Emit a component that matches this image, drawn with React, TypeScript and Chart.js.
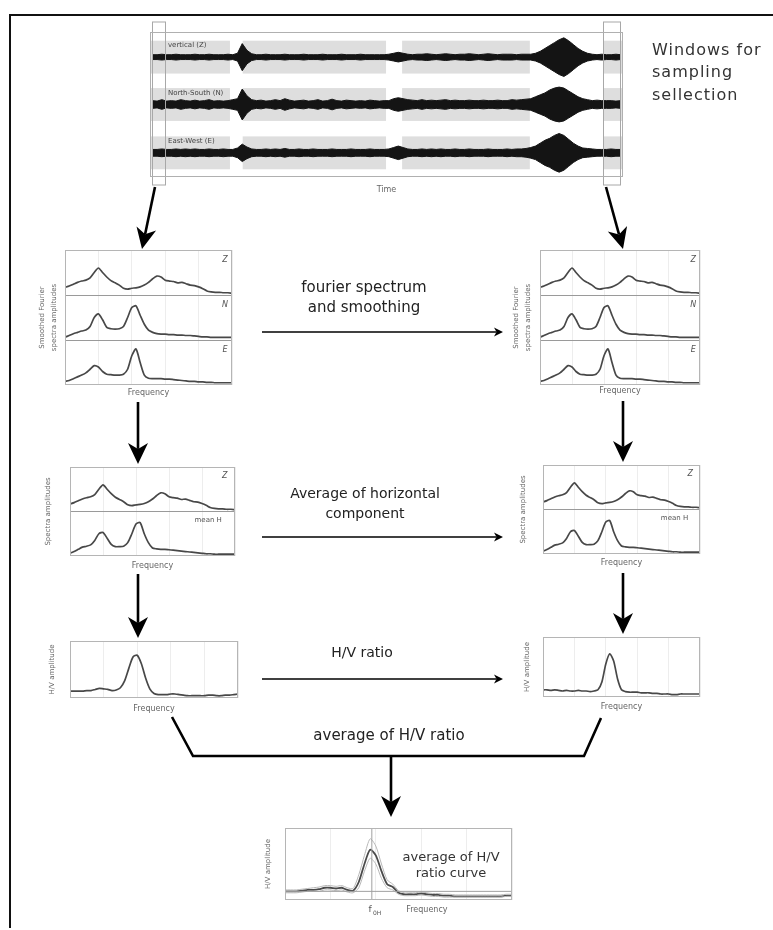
import React, { useEffect, useRef } from 'react';
import { Chart, registerables } from 'chart.js';

Chart.register(...registerables);

const SANS = '"DejaVu Sans", "Liberation Sans", Arial, sans-serif';

// ---------------- seismogram (half-amplitude envelope per time bin) ----------------
const traceNames = ['vertical (Z)', 'North-South (N)', 'East-West (E)'];
const traceZ = [
  2.5, 2.5, 3, 2.5, 2.5, 3, 2.5, 2.5, 2.5, 3,
  2.5, 2.5, 3, 2.5, 2.5, 2.5, 3, 2.5, 4, 14,
  7, 3.5, 2.5, 2.5, 3, 2.5, 2.5, 2.5, 3, 2.5,
  2.5, 2.5, 3, 2.5, 2.5, 2.5, 3, 2.5, 2.5, 2.5,
  3, 2.5, 2.5, 2.5, 3, 2.5, 2.5, 2.5, 2.5, 2.5,
  3, 4, 5, 4, 3, 2.5, 3, 3, 3.5, 3,
  2.5, 3, 3.5, 3, 2.5, 3, 3, 3.5, 3, 2.5,
  3, 3.5, 3, 2.5, 3, 3, 3, 2.5, 3, 3,
  3, 4, 6, 9, 12, 15, 18, 20, 17, 13,
  9, 6, 4, 3, 2.5, 3, 2.5, 2.5, 3, 2.5,
];
const traceN = [
  4, 3.5, 5, 3.5, 4, 3.5, 5, 4, 3.5, 4.5,
  3.5, 4, 5, 3.5, 4, 3.5, 4, 5, 6, 16,
  9, 5, 4, 4.5, 3.5, 4, 5, 4, 6, 4.5,
  3.5, 4, 4.5, 3.5, 4, 5, 3.5, 4, 5.5, 4,
  3.5, 4.5, 4, 3.5, 4, 3.5, 4.5, 4, 3.5, 4,
  4, 6, 7, 6, 5, 4.5, 4, 5, 4, 4.5,
  4, 4.5, 5, 4, 4.5, 4, 4, 4.5, 4, 4,
  4.5, 4, 4, 4.5, 4, 4, 5, 4.5, 5, 5.5,
  6, 8, 10, 12, 15, 17, 18, 17, 14, 11,
  8, 6, 5, 4, 4.5, 4, 4, 4, 3.5, 4,
];
const traceE = [
  3.5, 3.5, 4, 3.5, 3.5, 4, 3.5, 4, 3.5, 4,
  3.5, 3.5, 4, 3.5, 3.5, 4, 3.5, 3.5, 5, 9,
  6, 4, 3.5, 3.5, 4, 3.5, 4, 3.5, 4.5, 3.5,
  3.5, 4, 3.5, 3.5, 4, 3.5, 3.5, 3.5, 4, 3.5,
  3.5, 3.5, 4, 3.5, 3.5, 3.5, 4, 3.5, 3.5, 3.5,
  4, 5.5, 7, 5.5, 4, 3.5, 3.5, 4, 3.5, 4,
  3.5, 4, 3.5, 3.5, 4, 3.5, 3.5, 4, 3.5, 3.5,
  3.5, 4, 3.5, 3.5, 3.5, 4, 3.5, 4, 4, 4.5,
  5.5, 7, 10, 13, 15, 18, 20, 18, 14, 10,
  7, 5, 4.5, 4, 3.5, 3.5, 3.5, 4, 3.5, 3.5,
];
const windowStart = [0, 19.6, 53.3, 95.8];
const windowEnd = [16.9, 49.9, 80.3, 100];
const markerStart = [0.4, 95.8];
const markerEnd = [3.2, 99.4];

// ---------------- spectra (41 frequency samples) ----------------
const freqIdx = Array.from({ length: 41 }, (_, i) => i);
const specZ = [0.17, 0.2, 0.24, 0.28, 0.31, 0.33, 0.38, 0.5, 0.6, 0.5, 0.4, 0.32, 0.27, 0.22, 0.15, 0.13, 0.15, 0.16, 0.18, 0.22, 0.28, 0.36, 0.42, 0.4, 0.33, 0.31, 0.3, 0.27, 0.28, 0.25, 0.22, 0.21, 0.18, 0.14, 0.09, 0.07, 0.06, 0.06, 0.05, 0.05, 0.04];
const specN = [0.06, 0.1, 0.14, 0.17, 0.2, 0.22, 0.3, 0.5, 0.58, 0.45, 0.28, 0.25, 0.24, 0.25, 0.3, 0.5, 0.72, 0.76, 0.55, 0.35, 0.22, 0.17, 0.14, 0.13, 0.13, 0.12, 0.12, 0.11, 0.11, 0.1, 0.1, 0.09, 0.08, 0.07, 0.07, 0.06, 0.06, 0.06, 0.06, 0.06, 0.06];
const specE = [0.08, 0.1, 0.14, 0.18, 0.22, 0.27, 0.35, 0.43, 0.4, 0.3, 0.24, 0.23, 0.22, 0.22, 0.24, 0.35, 0.65, 0.8, 0.5, 0.22, 0.15, 0.14, 0.14, 0.14, 0.13, 0.13, 0.12, 0.11, 0.1, 0.09, 0.08, 0.08, 0.07, 0.07, 0.06, 0.06, 0.05, 0.05, 0.05, 0.05, 0.05];
const meanH = [0.06, 0.1, 0.15, 0.2, 0.22, 0.25, 0.35, 0.5, 0.53, 0.4, 0.26, 0.21, 0.21, 0.22, 0.3, 0.5, 0.72, 0.75, 0.5, 0.3, 0.18, 0.16, 0.15, 0.15, 0.14, 0.13, 0.12, 0.11, 0.1, 0.09, 0.08, 0.07, 0.06, 0.05, 0.05, 0.04, 0.04, 0.04, 0.04, 0.04, 0.04];
const hvLeft = [0.12, 0.12, 0.12, 0.12, 0.13, 0.13, 0.15, 0.17, 0.16, 0.15, 0.13, 0.14, 0.18, 0.3, 0.52, 0.72, 0.75, 0.6, 0.35, 0.16, 0.08, 0.06, 0.06, 0.06, 0.07, 0.07, 0.06, 0.05, 0.04, 0.04, 0.04, 0.04, 0.04, 0.05, 0.05, 0.04, 0.04, 0.05, 0.05, 0.06, 0.07];
const hvRight = [0.12, 0.12, 0.11, 0.12, 0.11, 0.1, 0.11, 0.1, 0.1, 0.11, 0.1, 0.1, 0.09, 0.1, 0.12, 0.25, 0.55, 0.72, 0.6, 0.3, 0.12, 0.09, 0.08, 0.08, 0.08, 0.07, 0.07, 0.07, 0.06, 0.06, 0.05, 0.05, 0.05, 0.04, 0.04, 0.05, 0.05, 0.05, 0.05, 0.05, 0.05];
const hvMean = [0.12, 0.12, 0.12, 0.13, 0.14, 0.14, 0.15, 0.17, 0.17, 0.16, 0.17, 0.14, 0.13, 0.25, 0.5, 0.7, 0.62, 0.4, 0.22, 0.18, 0.1, 0.08, 0.08, 0.08, 0.09, 0.08, 0.07, 0.07, 0.06, 0.06, 0.05, 0.05, 0.05, 0.05, 0.05, 0.05, 0.05, 0.05, 0.05, 0.06, 0.06];
const hvMeanUpper = [0.14, 0.14, 0.14, 0.15, 0.16, 0.17, 0.18, 0.2, 0.2, 0.19, 0.2, 0.17, 0.16, 0.35, 0.62, 0.85, 0.75, 0.5, 0.28, 0.22, 0.13, 0.1, 0.1, 0.1, 0.11, 0.1, 0.09, 0.09, 0.08, 0.08, 0.07, 0.07, 0.07, 0.07, 0.07, 0.07, 0.07, 0.07, 0.07, 0.08, 0.08];
const hvMeanLower = [0.1, 0.1, 0.1, 0.11, 0.12, 0.12, 0.12, 0.14, 0.14, 0.13, 0.14, 0.11, 0.1, 0.17, 0.4, 0.58, 0.5, 0.3, 0.17, 0.14, 0.08, 0.06, 0.06, 0.06, 0.07, 0.06, 0.05, 0.05, 0.04, 0.04, 0.04, 0.04, 0.04, 0.04, 0.04, 0.04, 0.04, 0.04, 0.04, 0.05, 0.05];
const f0Index = 15.3;
const hvOneLevel = 0.12;

// ---------------- plugins ----------------
const framePlugin = {
  id: 'frame',
  afterDraw(chart: any, _a: any, opts: any) {
    const { ctx, chartArea: a } = chart;
    ctx.save();
    ctx.strokeStyle = opts.color || '#b5b5b5';
    ctx.lineWidth = 1;
    ctx.strokeRect(a.left + 0.5, a.top + 0.5, a.right - a.left - 1, a.bottom - a.top - 1);
    ctx.restore();
  },
};

const notesPlugin = {
  id: 'notes',
  afterDraw(chart: any, _a: any, opts: any) {
    const items = opts.items || [];
    const { ctx } = chart;
    const xs = chart.scales.x;
    const ys = chart.scales.y;
    ctx.save();
    for (let i = 0; i < items.length; i++) {
      const n = items[i];
      ctx.font = `${n.italic ? 'italic ' : ''}${n.size || 8}px ${SANS}`;
      ctx.fillStyle = n.color || '#555';
      ctx.textAlign = n.align || 'center';
      ctx.textBaseline = 'middle';
      ctx.fillText(n.text, xs.getPixelForValue(n.x), ys.getPixelForValue(n.y));
    }
    ctx.restore();
  },
};

const TRACE_CENTERS = [124, 75, 25];
const BAND_HALF = 17;

const seisPlugin = {
  id: 'seisDecor',
  beforeDatasetsDraw(chart: any) {
    const { ctx } = chart;
    const xs = chart.scales.x;
    const ys = chart.scales.y;
    ctx.save();
    ctx.fillStyle = '#dedede';
    TRACE_CENTERS.forEach((c) => {
      const y0 = ys.getPixelForValue(c + BAND_HALF);
      const y1 = ys.getPixelForValue(c - BAND_HALF);
      windowStart.forEach((s, k) => {
        const x0 = xs.getPixelForValue(s);
        const x1 = xs.getPixelForValue(windowEnd[k]);
        ctx.fillRect(x0, y0, x1 - x0, y1 - y0);
      });
    });
    ctx.restore();
  },
  afterDraw(chart: any) {
    const { ctx, chartArea: a } = chart;
    const xs = chart.scales.x;
    const ys = chart.scales.y;
    ctx.save();
    ctx.strokeStyle = '#a8a8a8';
    ctx.lineWidth = 1;
    markerStart.forEach((s, k) => {
      const x0 = Math.round(xs.getPixelForValue(s)) + 0.5;
      const x1 = Math.round(xs.getPixelForValue(markerEnd[k])) + 0.5;
      ctx.strokeRect(x0, a.top - 10, x1 - x0, a.bottom - a.top + 18);
    });
    ctx.font = `7px ${SANS}`;
    ctx.fillStyle = '#444';
    ctx.textAlign = 'left';
    ctx.textBaseline = 'middle';
    traceNames.forEach((t, k) => {
      ctx.fillText(t, xs.getPixelForValue(3.8), ys.getPixelForValue(TRACE_CENTERS[k] + 12));
    });
    ctx.restore();
  },
};

// ---------------- components ----------------
function Seismogram() {
  const ref = useRef<HTMLCanvasElement>(null);
  const plot = { left: 150, top: 32, width: 473, height: 145 };
  const padL = 10, padT = 14, padR = 12, xh = 18;
  const cw = padL + plot.width + padR;
  const ch = padT + plot.height + xh;
  useEffect(() => {
    const traces = [traceZ, traceN, traceE];
    // each trace: upper and lower envelope, filled between them
    const datasets: any[] = [];
    traces.forEach((amp, k) => {
      datasets.push({
        data: amp.map((v, i) => ({ x: i + 0.5, y: TRACE_CENTERS[k] + v })),
        borderColor: '#141414',
        borderWidth: 1,
        backgroundColor: '#141414',
        pointRadius: 0,
        tension: 0,
        fill: '+1',
      });
      datasets.push({
        data: amp.map((v, i) => ({ x: i + 0.5, y: TRACE_CENTERS[k] - v })),
        borderColor: '#141414',
        borderWidth: 1,
        pointRadius: 0,
        tension: 0,
        fill: false,
      });
    });
    const chart = new Chart(ref.current as HTMLCanvasElement, {
      type: 'line',
      data: { datasets } as any,
      options: {
        animation: false,
        responsive: false,
        events: [],
        layout: { padding: { left: padL, top: padT, right: padR, bottom: 0 } },
        plugins: { legend: { display: false }, tooltip: { enabled: false }, filler: { propagate: false }, frame: { color: '#b0b0b0' } } as any,
        scales: {
          x: {
            type: 'linear',
            min: 0,
            max: 100,
            grid: { display: false },
            border: { display: false },
            ticks: { display: false },
            title: { display: true, text: 'Time', color: '#666', font: { family: SANS, size: 8, lineHeight: '10px' }, padding: 0 },
            afterFit: (s: any) => { s.height = xh; },
          },
          y: { display: false, min: 0, max: 150 },
        },
      } as any,
      plugins: [seisPlugin, framePlugin],
    });
    return () => chart.destroy();
  }, []);
  return (
    <canvas
      ref={ref}
      width={cw}
      height={ch}
      style={{ position: 'absolute', left: plot.left - padL, top: plot.top - padT, width: cw, height: ch }}
    />
  );
}

type Curve = { values: number[]; offset: number; color?: string; width?: number };
type Note = { text: string; x: number; y: number; align?: string; size?: number; italic?: boolean; color?: string };
type PanelSpec = {
  left: number; top: number; width: number; height: number;
  panels: number;
  curves: Curve[];
  notes: Note[];
  yTitle: string[];
  yTitleX: number;
  yTitleLH: number;
  xTitle?: string;
  xTitleY: number;
  vlines?: number[];
  hlines?: number[];
};

function SpecPanel({ spec }: { spec: PanelSpec }) {
  const ref = useRef<HTMLCanvasElement>(null);
  const yw = 40, padTop = 6, padRight = 6, xLH = 10;
  const xh = Math.round(spec.xTitleY + xLH / 2 - (spec.top + spec.height));
  const cw = yw + spec.width + padRight;
  const ch = padTop + spec.height + xh;
  const canvasLeft = spec.left - yw;
  const canvasTop = spec.top - padTop;
  useEffect(() => {
    const datasets: any[] = [];
    (spec.hlines || []).forEach((h) => {
      datasets.push({ data: [{ x: 0, y: h }, { x: 40, y: h }], borderColor: '#a0a0a0', borderWidth: 1, pointRadius: 0 });
    });
    (spec.vlines || []).forEach((v) => {
      datasets.push({ data: [{ x: v, y: 0 }, { x: v, y: spec.panels }], borderColor: '#a0a0a0', borderWidth: 1, pointRadius: 0 });
    });
    spec.curves.forEach((c) => {
      datasets.push({
        data: c.values.map((v, i) => ({ x: freqIdx[i], y: v + c.offset })),
        borderColor: c.color || '#484848',
        borderWidth: c.width || 1.7,
        pointRadius: 0,
        tension: 0.25,
        fill: false,
      });
    });
    const panels = spec.panels;
    const chart = new Chart(ref.current as HTMLCanvasElement, {
      type: 'line',
      data: { datasets },
      options: {
        animation: false,
        responsive: false,
        events: [],
        layout: { padding: { left: 0, top: padTop, right: padRight, bottom: 0 } },
        plugins: {
          legend: { display: false },
          tooltip: { enabled: false },
          frame: { color: '#b5b5b5' },
          notes: { items: spec.notes },
        } as any,
        scales: {
          x: {
            type: 'linear',
            min: 0,
            max: 40,
            border: { display: false },
            grid: { color: '#ededed', drawTicks: false },
            ticks: { display: false, stepSize: 8 },
            title: {
              display: !!spec.xTitle,
              text: spec.xTitle || '',
              color: '#666',
              font: { family: SANS, size: 8, lineHeight: xLH + 'px' },
              padding: 0,
            },
            afterFit: (s: any) => { s.height = xh; },
          },
          y: {
            type: 'linear',
            min: 0,
            max: panels,
            border: { display: false },
            grid: {
              drawTicks: false,
              color: (c: any) => (c.tick && c.tick.value > 0 && c.tick.value < panels ? '#9a9a9a' : 'rgba(0,0,0,0)'),
            },
            ticks: { display: false, stepSize: 1 },
            title: {
              display: true,
              text: spec.yTitle,
              color: '#666',
              font: { family: SANS, size: 7, lineHeight: spec.yTitleLH + 'px' },
              padding: { top: spec.yTitleX - canvasLeft - spec.yTitleLH / 2, bottom: 0 },
            },
            afterFit: (s: any) => { s.width = yw; },
          },
        },
      } as any,
      plugins: [framePlugin, notesPlugin],
    });
    return () => chart.destroy();
  }, []);
  return (
    <canvas
      ref={ref}
      width={cw}
      height={ch}
      style={{ position: 'absolute', left: canvasLeft, top: canvasTop, width: cw, height: ch }}
    />
  );
}

const fourierLeft: PanelSpec = {
  left: 65, top: 250, width: 167, height: 135, panels: 3,
  curves: [{ values: specZ, offset: 2 }, { values: specN, offset: 1 }, { values: specE, offset: 0 }],
  notes: [
    { text: 'Z', x: 38.3, y: 2.78, italic: true, size: 8 },
    { text: 'N', x: 38.3, y: 1.78, italic: true, size: 8 },
    { text: 'E', x: 38.3, y: 0.78, italic: true, size: 8 },
  ],
  yTitle: ['Smoothed Fourier', 'spectra amplitudes'], yTitleX: 42, yTitleLH: 12,
  xTitle: 'Frequency', xTitleY: 393,
};
const fourierRight: PanelSpec = {
  ...fourierLeft, left: 540, top: 250, width: 160, yTitleX: 516, xTitleY: 391,
};
const spectraLeft: PanelSpec = {
  left: 70, top: 467, width: 165, height: 89, panels: 2,
  curves: [{ values: specZ, offset: 1 }, { values: meanH, offset: 0 }],
  notes: [
    { text: 'Z', x: 37.5, y: 1.8, italic: true, size: 8 },
    { text: 'mean H', x: 33.5, y: 0.8, size: 7 },
  ],
  yTitle: ['Spectra amplitudes'], yTitleX: 48, yTitleLH: 10,
  xTitle: 'Frequency', xTitleY: 566,
};
const spectraRight: PanelSpec = {
  ...spectraLeft, left: 543, top: 465, width: 157, yTitleX: 523, xTitleY: 563,
};
const hvLeftSpec: PanelSpec = {
  left: 70, top: 641, width: 168, height: 57, panels: 1,
  curves: [{ values: hvLeft, offset: 0 }],
  notes: [],
  yTitle: ['H/V amplitude'], yTitleX: 52, yTitleLH: 10,
  xTitle: 'Frequency', xTitleY: 709,
};
const hvRightSpec: PanelSpec = {
  left: 543, top: 637, width: 157, height: 60, panels: 1,
  curves: [{ values: hvRight, offset: 0 }],
  notes: [],
  yTitle: ['H/V amplitude'], yTitleX: 527, yTitleLH: 10,
  xTitle: 'Frequency', xTitleY: 707,
};
const hvMeanSpec: PanelSpec = {
  left: 285, top: 828, width: 227, height: 72, panels: 1,
  curves: [
    { values: hvMeanUpper, offset: 0, color: '#b8b8b8', width: 1 },
    { values: hvMeanLower, offset: 0, color: '#b8b8b8', width: 1 },
    { values: hvMean, offset: 0, color: '#4a4a4a', width: 1.8 },
  ],
  notes: [
    { text: 'f', x: f0Index - 0.3, y: -0.14, size: 9, color: '#555' },
    { text: '0H', x: f0Index + 0.2, y: -0.18, size: 6, align: 'left', color: '#555' },
    { text: 'Frequency', x: 25, y: -0.14, size: 8, color: '#666' },
  ],
  yTitle: ['H/V amplitude'], yTitleX: 268, yTitleLH: 10,
  xTitleY: 914,
  vlines: [f0Index],
  hlines: [hvOneLevel],
};

type ArrowDef = { x1: number; y1: number; x2: number; y2: number; big: boolean };
const arrows: ArrowDef[] = [
  { x1: 155, y1: 187, x2: 142, y2: 249, big: true },
  { x1: 606, y1: 187, x2: 623, y2: 249, big: true },
  { x1: 138, y1: 402, x2: 138, y2: 464, big: true },
  { x1: 623, y1: 401, x2: 623, y2: 462, big: true },
  { x1: 138, y1: 574, x2: 138, y2: 638, big: true },
  { x1: 623, y1: 573, x2: 623, y2: 634, big: true },
  { x1: 391, y1: 757, x2: 391, y2: 817, big: true },
  { x1: 262, y1: 332, x2: 503, y2: 332, big: false },
  { x1: 262, y1: 537, x2: 503, y2: 537, big: false },
  { x1: 262, y1: 679, x2: 503, y2: 679, big: false },
];

function Arrow({ a }: { a: ArrowDef }) {
  const L = a.big ? 21 : 9;
  const W = a.big ? 10 : 4.5;
  const sw = a.big ? 2.6 : 1.4;
  const dx = a.x2 - a.x1, dy = a.y2 - a.y1;
  const len = Math.hypot(dx, dy);
  const ux = dx / len, uy = dy / len;
  const px = -uy, py = ux;
  const bx = a.x2 - ux * L, by = a.y2 - uy * L;
  const nx = a.x2 - ux * L * 0.72, ny = a.y2 - uy * L * 0.72;
  const pts = [
    [a.x2, a.y2],
    [bx + px * W, by + py * W],
    [nx, ny],
    [bx - px * W, by - py * W],
  ].map((p) => p.join(',')).join(' ');
  return (
    <g>
      <line x1={a.x1} y1={a.y1} x2={nx} y2={ny} stroke="#000" strokeWidth={sw} />
      <polygon points={pts} fill="#000" />
    </g>
  );
}

function Label({ x, y, lines, size, align, lh, color, spacing }: { x: number; y: number; lines: string[]; size: number; align: 'left' | 'center'; lh: number; color?: string; spacing?: number }) {
  return (
    <div
      style={{
        position: 'absolute',
        left: align === 'left' ? x : x - 150,
        top: y - lh / 2,
        width: align === 'left' ? 200 : 300,
        textAlign: align,
        fontFamily: SANS,
        fontSize: size,
        lineHeight: lh + 'px',
        color: color || '#222',
        letterSpacing: spacing || 0,
        whiteSpace: 'nowrap',
      }}
    >
      {lines.map((l, i) => (
        <div key={i}>{l}</div>
      ))}
    </div>
  );
}

export default function App() {
  return (
    <div style={{ position: 'absolute', left: 0, top: 0, width: 773, height: 928, background: '#fff', overflow: 'hidden' }}>
      <div
        style={{
          position: 'absolute', left: 9, top: 14, width: 764, height: 916,
          borderLeft: '2px solid #111', borderTop: '2px solid #111', boxSizing: 'border-box',
        }}
      />
      <Seismogram />
      <SpecPanel spec={fourierLeft} />
      <SpecPanel spec={fourierRight} />
      <SpecPanel spec={spectraLeft} />
      <SpecPanel spec={spectraRight} />
      <SpecPanel spec={hvLeftSpec} />
      <SpecPanel spec={hvRightSpec} />
      <SpecPanel spec={hvMeanSpec} />
      <svg width={773} height={928} style={{ position: 'absolute', left: 0, top: 0, pointerEvents: 'none' }}>
        {arrows.map((a, i) => (
          <Arrow key={i} a={a} />
        ))}
        <polyline points="172,717 193,756 584,756 601,718" fill="none" stroke="#000" strokeWidth={2.6} />
      </svg>
      <Label x={652} y={50} lines={['Windows for', 'sampling', 'sellection']} size={16} lh={22.5} align="left" color="#333" spacing={1} />
      <Label x={364} y={287} lines={['fourier spectrum', 'and smoothing']} size={15} lh={20} align="center" />
      <Label x={365} y={494} lines={['Average of horizontal', 'component']} size={14} lh={19.5} align="center" />
      <Label x={362} y={652} lines={['H/V ratio']} size={14} lh={20} align="center" />
      <Label x={389} y={735} lines={['average of H/V ratio']} size={15} lh={20} align="center" />
      <Label x={451} y={857} lines={['average of H/V', 'ratio curve']} size={13} lh={16} align="center" color="#333" />
    </div>
  );
}
